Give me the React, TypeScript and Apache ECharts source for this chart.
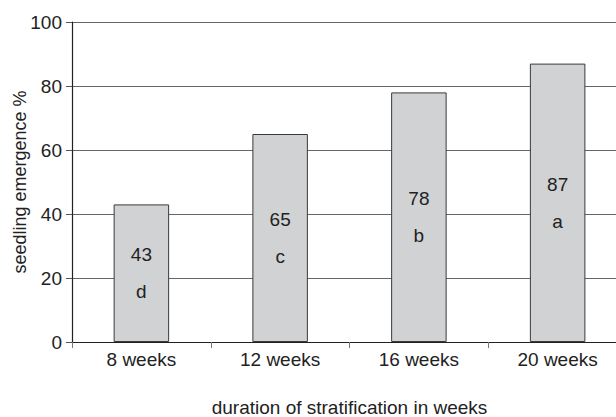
import React, { useEffect, useRef } from "react";
import * as echarts from "echarts";

const categories = ["8 weeks", "12 weeks", "16 weeks", "20 weeks"];
const values = [43, 65, 78, 87];
const letters = ["d", "c", "b", "a"];
const yTicks = [0, 20, 40, 60, 80, 100];

export default function App() {
  const ref = useRef<HTMLDivElement>(null);
  useEffect(() => {
    if (!ref.current) return;
    const chart = echarts.init(ref.current, null, { renderer: "svg" });
    const font = "'Liberation Sans', Arial, Helvetica, sans-serif";
    chart.setOption({
      animation: false,
      backgroundColor: "#ffffff",
      textStyle: { fontFamily: font },
      grid: {
        left: 72,
        top: 22,
        bottom: 75,
        right: -11,
        containLabel: false,
        outerBoundsMode: "none",
      },
      xAxis: {
        type: "category",
        data: categories,
        name: "duration of stratification in weeks",
        nameLocation: "middle",
        nameGap: 56,
        nameMoveOverlap: false,
        nameTextStyle: { fontSize: 19, lineHeight: 19, color: "#222", fontFamily: font },
        axisLine: { show: true, lineStyle: { color: "#222", width: 1.2 } },
        axisTick: { show: true, length: 6, alignWithLabel: false, lineStyle: { color: "#777" } },
        axisLabel: { fontSize: 19, color: "#222", margin: 8, fontFamily: font },
      },
      yAxis: {
        type: "value",
        min: yTicks[0],
        max: yTicks[yTicks.length - 1],
        interval: 20,
        name: "seedling emergence %",
        nameLocation: "middle",
        nameGap: 43,
        nameMoveOverlap: false,
        nameRotate: 90,
        nameTextStyle: { fontSize: 18, color: "#222", fontFamily: font },
        axisLine: { show: true, lineStyle: { color: "#222", width: 1.2 } },
        axisTick: { show: true, length: 6, lineStyle: { color: "#555" } },
        axisLabel: { fontSize: 19, color: "#222", margin: 10, fontFamily: font },
        splitLine: { show: true, lineStyle: { color: "#666", width: 1 } },
      },
      series: [
        {
          type: "bar",
          data: values.map((v, i) => ({ value: v, letter: letters[i] })),
          barWidth: "40%",
          itemStyle: { color: "#d1d2d4", borderColor: "#3a3a3a", borderWidth: 1 },
          label: {
            show: true,
            position: "inside",
            color: "#222",
            fontSize: 19,
            lineHeight: 37,
            fontFamily: font,
            formatter: (p: any) => `${p.value}\n${letters[p.dataIndex]}`,
          },
        },
      ],
    });
    return () => chart.dispose();
  }, []);
  return (
    <div
      ref={ref}
      style={{ position: "fixed", left: 0, top: 0, width: 616, height: 417 }}
    />
  );
}
